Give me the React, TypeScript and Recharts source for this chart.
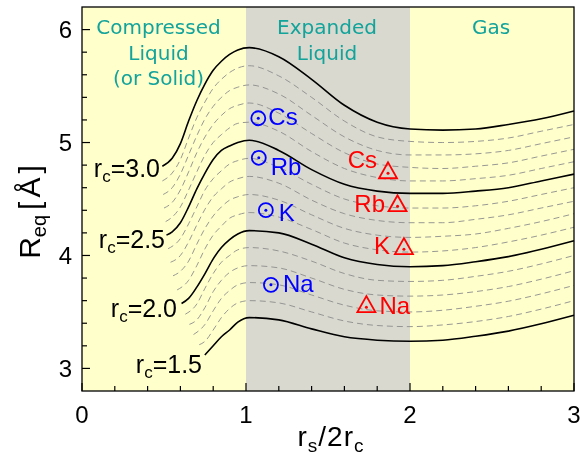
import React from 'react';
import { ComposedChart, Line, Scatter, XAxis, YAxis, CartesianGrid } from 'recharts';

// x = rs / 2rc, y = Req [Å]
const GRID_X = [0.55, 0.6, 0.65, 0.7, 0.75, 0.8, 0.85, 0.9, 0.95, 1.02, 1.2, 1.4, 1.6, 1.8, 2.0, 2.2, 2.4, 2.6, 2.8, 3.0];
const RC = [3.0, 2.9, 2.8, 2.7, 2.6, 2.5, 2.4, 2.3, 2.2, 2.1, 2.0, 1.9, 1.8, 1.7, 1.6, 1.5];
const START_X = [0.49, 0.49, 0.495, 0.5, 0.51, 0.515, 0.525, 0.54, 0.555, 0.58, 0.607, 0.63, 0.655, 0.68, 0.715, 0.749];
const START_Y = [4.79, 4.66, 4.54, 4.42, 4.3, 4.18, 4.06, 3.94, 3.82, 3.695, 3.575, 3.48, 3.39, 3.3, 3.21, 3.118];
const REQ: (number | null)[][] = [
  [4.86, 4.99, 5.19, 5.37, 5.52, 5.64, 5.72, 5.78, 5.82, 5.84, 5.76, 5.56, 5.33, 5.18, 5.12, 5.11, 5.12, 5.16, 5.21, 5.28],
  [4.73, 4.85, 5.04, 5.22, 5.36, 5.48, 5.56, 5.62, 5.66, 5.68, 5.59, 5.4, 5.19, 5.05, 5.01, 5.0, 5.01, 5.04, 5.1, 5.16],
  [4.6, 4.72, 4.89, 5.06, 5.21, 5.32, 5.4, 5.46, 5.49, 5.51, 5.43, 5.24, 5.05, 4.93, 4.89, 4.89, 4.9, 4.93, 4.99, 5.05],
  [4.47, 4.58, 4.74, 4.91, 5.05, 5.16, 5.24, 5.3, 5.33, 5.35, 5.26, 5.08, 4.91, 4.81, 4.78, 4.77, 4.79, 4.82, 4.88, 4.94],
  [4.34, 4.43, 4.58, 4.74, 4.89, 5.0, 5.07, 5.13, 5.17, 5.18, 5.1, 4.92, 4.77, 4.69, 4.66, 4.66, 4.68, 4.71, 4.77, 4.83],
  [4.21, 4.29, 4.43, 4.59, 4.73, 4.85, 4.93, 4.97, 5.0, 5.02, 4.93, 4.76, 4.63, 4.57, 4.55, 4.55, 4.57, 4.6, 4.66, 4.72],
  [null, 4.15, 4.28, 4.43, 4.58, 4.68, 4.75, 4.81, 4.84, 4.86, 4.78, 4.63, 4.5, 4.44, 4.42, 4.42, 4.44, 4.48, 4.54, 4.6],
  [null, 4.0, 4.12, 4.27, 4.41, 4.52, 4.59, 4.65, 4.68, 4.7, 4.64, 4.49, 4.37, 4.31, 4.29, 4.29, 4.32, 4.36, 4.42, 4.48],
  [null, 3.86, 3.95, 4.1, 4.24, 4.35, 4.43, 4.49, 4.52, 4.54, 4.49, 4.36, 4.24, 4.18, 4.16, 4.17, 4.19, 4.24, 4.3, 4.37],
  [null, null, 3.78, 3.91, 4.06, 4.18, 4.26, 4.33, 4.36, 4.38, 4.34, 4.23, 4.11, 4.05, 4.03, 4.04, 4.07, 4.12, 4.18, 4.25],
  [null, null, 3.62, 3.72, 3.84, 3.97, 4.07, 4.14, 4.19, 4.22, 4.2, 4.1, 3.98, 3.92, 3.9, 3.91, 3.945, 3.99, 4.055, 4.13],
  [null, null, null, 3.57, 3.71, 3.84, 3.94, 4.0, 4.05, 4.07, 4.04, 3.95, 3.84, 3.78, 3.77, 3.78, 3.815, 3.86, 3.925, 4.0],
  [null, null, null, 3.43, 3.54, 3.68, 3.78, 3.85, 3.89, 3.91, 3.89, 3.8, 3.7, 3.65, 3.64, 3.65, 3.68, 3.725, 3.79, 3.865],
  [null, null, null, null, 3.39, 3.51, 3.62, 3.69, 3.74, 3.76, 3.74, 3.65, 3.56, 3.51, 3.5, 3.515, 3.55, 3.595, 3.66, 3.735],
  [null, null, null, null, 3.24, 3.34, 3.45, 3.53, 3.58, 3.6, 3.58, 3.5, 3.42, 3.38, 3.37, 3.385, 3.415, 3.46, 3.525, 3.6],
  [null, null, null, null, null, 3.2, 3.28, 3.34, 3.41, 3.45, 3.43, 3.35, 3.28, 3.25, 3.24, 3.25, 3.285, 3.33, 3.395, 3.47],
];

// measured alkali metals
const ELEMENTS = ['Cs', 'Rb', 'K', 'Na'];
const LIQUID_X = [1.075, 1.078, 1.121, 1.152];
const LIQUID_Y = [5.215, 4.865, 4.401, 3.74];
const GAS_X = [1.866, 1.924, 1.963, 1.734];
const GAS_Y = [4.737, 4.445, 4.065, 3.551];

// phase region boundaries (rs/2rc)
const REGION_EDGES = [0, 1, 2, 3];

const X_TICKS = [0, 0.2, 0.4, 0.6, 0.8, 1, 1.2, 1.4, 1.6, 1.8, 2, 2.2, 2.4, 2.6, 2.8, 3];
const Y_TICKS = [3, 3.2, 3.4, 3.6, 3.8, 4, 4.2, 4.4, 4.6, 4.8, 5, 5.2, 5.4, 5.6, 5.8, 6];

const FONT = '"Liberation Sans", Arial, sans-serif';
const LABEL_FONT = '"DejaVu Sans", sans-serif';
const TEAL = '#12A39B';
const YELLOW = '#FFFFCC';
const GRAY = '#D9D9CF';

const isMajor = (v: number) => Math.abs(v - Math.round(v)) < 1e-6;

const curves = RC.map((rc, i) => ({
  rc,
  solid: i % 5 === 0,
  data: [
    { x: START_X[i], y: START_Y[i] },
    ...GRID_X.map((x, j) => ({ x, y: REQ[i][j] })).filter((p) => p.y !== null),
  ],
}));

const liquidPts = ELEMENTS.map((name, i) => ({ name, x: LIQUID_X[i], y: LIQUID_Y[i] }));
const gasPts = ELEMENTS.map((name, i) => ({ name, x: GAS_X[i], y: GAS_Y[i] }));

function BottomTick({ x, y, payload }: any) {
  const major = isMajor(payload.value);
  return (
    <g>
      <line x1={x} x2={x} y1={y} y2={y - (major ? 8 : 5)} stroke="#000" strokeWidth={1.2} />
      {major && (
        <text x={x} y={y + 32} textAnchor="middle" fontSize={24} fontFamily={FONT} fill="#000">
          {payload.value}
        </text>
      )}
    </g>
  );
}

function TopTick({ x, y, payload }: any) {
  const major = isMajor(payload.value);
  return <line x1={x} x2={x} y1={y} y2={y + (major ? 8 : 5)} stroke="#000" strokeWidth={1.2} />;
}

function LeftTick({ x, y, payload }: any) {
  const major = isMajor(payload.value);
  return (
    <g>
      <line x1={x} x2={x + (major ? 8 : 5)} y1={y} y2={y} stroke="#000" strokeWidth={1.2} />
      {major && (
        <text x={x - 10} y={y + 8.5} textAnchor="end" fontSize={24} fontFamily={FONT} fill="#000">
          {payload.value}
        </text>
      )}
    </g>
  );
}

function RightTick({ x, y, payload }: any) {
  const major = isMajor(payload.value);
  return <line x1={x} x2={x - (major ? 8 : 5)} y1={y} y2={y} stroke="#000" strokeWidth={1.2} />;
}

const liquidText: Record<string, [number, number]> = { Cs: [10, 7], Rb: [12, 17.5], K: [13, 10.7], Na: [12, 7.3] };
const gasText: Record<string, [number, number, string]> = {
  Cs: [-11, -4, 'end'],
  Rb: [-12.5, 6.7, 'end'],
  K: [-14, 6, 'end'],
  Na: [13, 8, 'start'],
};

function LiquidMark({ cx, cy, payload }: any) {
  const [dx, dy] = liquidText[payload.name];
  return (
    <g>
      <circle cx={cx} cy={cy} r={7} fill="none" stroke="#0000FF" strokeWidth={1.8} />
      <circle cx={cx} cy={cy} r={1.5} fill="#0000FF" />
      <text x={cx + dx} y={cy + dy} fontSize={24} fontFamily={FONT} fill="#0000FF">
        {payload.name}
      </text>
    </g>
  );
}

function GasMark({ cx, cy, payload }: any) {
  const [dx, dy, anchor] = gasText[payload.name];
  return (
    <g>
      <polygon
        points={`${cx},${cy - 10} ${cx - 9},${cy + 6} ${cx + 9},${cy + 6}`}
        fill="none"
        stroke="#FF0000"
        strokeWidth={1.8}
      />
      <circle cx={cx} cy={cy + 1} r={1.5} fill="#FF0000" />
      <text x={cx + dx} y={cy + dy} textAnchor={anchor} fontSize={24} fontFamily={FONT} fill="#FF0000">
        {payload.name}
      </text>
    </g>
  );
}

function RcLabel({ x, y, value }: { x: number; y: number; value: string }) {
  return (
    <text x={x} y={y} textAnchor="end" fontSize={25} fontFamily={FONT} fill="#000">
      r<tspan fontSize={17} dy={5}>c</tspan>
      <tspan dy={-5}>={value}</tspan>
    </text>
  );
}

export default function App() {
  return (
    <div style={{ position: 'relative', width: 581, height: 457, background: '#fff' }}>
      {/* grid stripes get painted over the axes, so multiply them to keep the inner ticks visible */}
      <style>{'body{margin:0} .recharts-cartesian-grid{mix-blend-mode:multiply}'}</style>
      <ComposedChart width={581} height={457} margin={{ top: 0, right: 0, bottom: 0, left: 0 }}>
        <CartesianGrid
          horizontal={false}
          vertical
          verticalValues={REGION_EDGES}
          verticalFill={[YELLOW, GRAY, YELLOW]}
          fillOpacity={1}
          stroke="none"
        />
        {curves
          .filter((c) => !c.solid)
          .map((c) => (
            <Line
              key={c.rc}
              data={c.data}
              dataKey="y"
              type="monotone"
              stroke="#8C8C8C"
              strokeWidth={0.9}
              strokeDasharray="6 4"
              dot={false}
              activeDot={false}
              isAnimationActive={false}
            />
          ))}
        {curves
          .filter((c) => c.solid)
          .map((c) => (
            <Line
              key={c.rc}
              data={c.data}
              dataKey="y"
              type="monotone"
              stroke="#000"
              strokeWidth={1.6}
              dot={false}
              activeDot={false}
              isAnimationActive={false}
            />
          ))}
        <Scatter data={liquidPts} dataKey="y" shape={<LiquidMark />} isAnimationActive={false} />
        <Scatter data={gasPts} dataKey="y" shape={<GasMark />} isAnimationActive={false} />
        <XAxis
          dataKey="x"
          type="number"
          domain={[0, 3]}
          ticks={X_TICKS}
          interval={0}
          height={66}
          tickSize={0}
          tickMargin={0}
          axisLine={false}
          tickLine={false}
          tick={<BottomTick />}
        />
        <XAxis
          xAxisId="top"
          orientation="top"
          type="number"
          domain={[0, 3]}
          ticks={X_TICKS}
          interval={0}
          height={7}
          tickSize={0}
          tickMargin={0}
          axisLine={false}
          tickLine={false}
          tick={<TopTick />}
        />
        <YAxis
          type="number"
          domain={[2.8, 6.2]}
          ticks={Y_TICKS}
          interval={0}
          width={82}
          tickSize={0}
          tickMargin={0}
          axisLine={false}
          tickLine={false}
          tick={<LeftTick />}
        />
        <YAxis
          yAxisId="right"
          orientation="right"
          type="number"
          domain={[2.8, 6.2]}
          ticks={Y_TICKS}
          interval={0}
          width={7}
          tickSize={0}
          tickMargin={0}
          axisLine={false}
          tickLine={false}
          tick={<RightTick />}
        />
      </ComposedChart>
      <svg width={581} height={457} style={{ position: 'absolute', left: 0, top: 0, pointerEvents: 'none' }}>
        <rect x={82} y={7} width={492} height={384} fill="none" stroke="#000" strokeWidth={1.3} />
        <g fontFamily={LABEL_FONT} fontSize={20} fill={TEAL} textAnchor="middle">
          <text x={158.5} y={34}>Compressed</text>
          <text x={158.5} y={59.5}>Liquid</text>
          <text x={158.5} y={85}>(or Solid)</text>
          <text x={327} y={34}>Expanded</text>
          <text x={327} y={59.5}>Liquid</text>
          <text x={491} y={34}>Gas</text>
        </g>
        <RcLabel x={160} y={177} value="3.0" />
        <RcLabel x={165} y={248} value="2.5" />
        <RcLabel x={177} y={317} value="2.0" />
        <RcLabel x={202} y={373} value="1.5" />
        <text transform="translate(40,212) rotate(-90)" textAnchor="middle" fontSize={30} fontFamily={FONT} fill="#000">
          R<tspan fontSize={20} dy={6}>eq</tspan>
          <tspan dy={-6} dx={5}>[</tspan>
          <tspan dx={4}>Å</tspan>
          <tspan dx={4}>]</tspan>
        </text>
        <text x={331} y={446} textAnchor="middle" fontSize={28} fontFamily={FONT} fill="#000" letterSpacing={1}>
          r<tspan fontSize={19} dy={6}>s</tspan>
          <tspan dy={-6}>/2r</tspan>
          <tspan fontSize={19} dy={6}>c</tspan>
        </text>
      </svg>
    </div>
  );
}
